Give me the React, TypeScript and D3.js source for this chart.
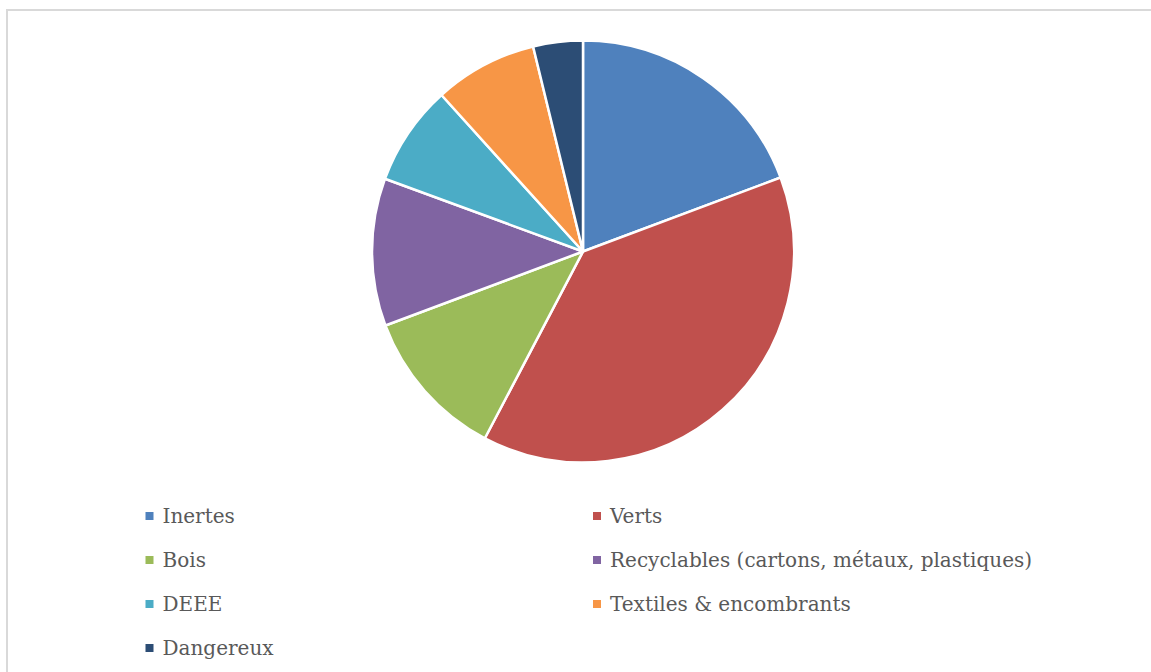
import React from "react";
import * as d3 from "d3";

const categories = [
  "Inertes",
  "Verts",
  "Bois",
  "Recyclables (cartons, métaux, plastiques)",
  "DEEE",
  "Textiles & encombrants",
  "Dangereux",
];
const values = [19.3, 38.4, 11.6, 11.3, 7.7, 7.9, 3.8];
const colors = ["#4F81BD", "#C0504D", "#9BBB59", "#8064A2", "#4BACC6", "#F79646", "#2C4D75"];

export default function App() {
  const W = 1151, H = 672;
  const cx = 583, cy = 251.5, r = 211;
  const pie = d3.pie<number>().sort(null).value((d) => d);
  const arcs = pie(values);
  const arc = d3.arc<d3.PieArcDatum<number>>().innerRadius(0).outerRadius(r);

  const colX = [149.5, 597];
  const rowY = [516, 560, 604, 648];

  return (
    <svg width={W} height={H} style={{ position: "absolute", left: 0, top: 0 }}>
      <rect x={0} y={0} width={W} height={H} fill="#fff" />
      <rect x={7} y={10} width={W + 20} height={H + 20} fill="#fff" stroke="#d9d9d9" strokeWidth={2} />
      <g transform={`translate(${cx},${cy})`}>
        {arcs.map((a, i) => (
          <path key={i} d={arc(a) || ""} fill={colors[i]} stroke="#fff" strokeWidth={2.5} strokeLinejoin="round" />
        ))}
      </g>
      {categories.map((c, i) => {
        const x = colX[i % 2];
        const y = rowY[Math.floor(i / 2)];
        return (
          <g key={c}>
            <rect x={x - 4} y={y - 4} width={8} height={8} fill={colors[i]} />
            <text x={x + 13} y={y} dy="0.36em" fontFamily="DejaVu Serif" fontSize={20} fill="#595959">
              {c}
            </text>
          </g>
        );
      })}
    </svg>
  );
}
